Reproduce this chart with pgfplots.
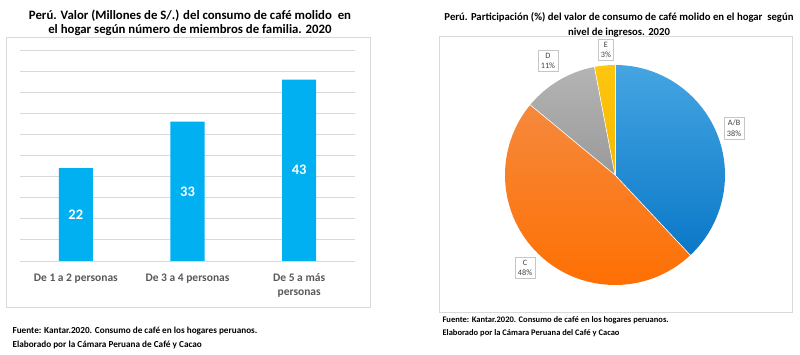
\documentclass[border=0pt]{standalone}
\usepackage{pgfplots}
\pgfplotsset{compat=1.18}
\usepackage{pgfplotstable}
\usepackage{fontspec}
\setmainfont{Carlito}
\definecolor{barblue}{HTML}{00B0F0}
\definecolor{gridgray}{HTML}{D9D9D9}
\definecolor{boxgray}{HTML}{D9D9D9}
\definecolor{txtgray}{HTML}{595959}
\definecolor{lbltxt}{HTML}{404040}
\definecolor{slice0top}{HTML}{45A5E2}
\definecolor{slice0bot}{HTML}{0A78C8}
\definecolor{slice1top}{HTML}{F5893C}
\definecolor{slice1bot}{HTML}{FF6E00}
\definecolor{slice2top}{HTML}{B4B4B4}
\definecolor{slice2bot}{HTML}{9A9A9A}
\definecolor{slice3top}{HTML}{FFC60F}
\definecolor{slice3bot}{HTML}{F5B800}

% bar data
\pgfplotstableread{
x value
0 22
1 33
2 43
}\bartable

% pie data: name, percent, label position (axis units, radius = 1)
\pgfplotstableread{
name pct lx ly
A/B 38 1.082 0.427
C 48 -0.818 -0.845
D 11 -0.609 1.036
E 3 -0.082 1.136
}\pietable

\newcommand\computepie{%
  \gdef\pieangle{90}%
  \foreach \i in {0,1,2,3}{%
    \pgfplotstablegetelem{\i}{pct}\of{\pietable}%
    \pgfmathsetmacro\sa{\pieangle}%
    \pgfmathsetmacro\ea{\pieangle-3.6*\pgfplotsretval}%
    \expandafter\xdef\csname piepct\i\endcsname{\pgfplotsretval}%
    \expandafter\xdef\csname piestart\i\endcsname{\sa}%
    \expandafter\xdef\csname pieend\i\endcsname{\ea}%
    \xdef\pieangle{\ea}%
    \pgfplotstablegetelem{\i}{name}\of{\pietable}%
    \expandafter\xdef\csname piename\i\endcsname{\pgfplotsretval}%
    \pgfplotstablegetelem{\i}{lx}\of{\pietable}%
    \expandafter\xdef\csname pielx\i\endcsname{\pgfplotsretval}%
    \pgfplotstablegetelem{\i}{ly}\of{\pietable}%
    \expandafter\xdef\csname piely\i\endcsname{\pgfplotsretval}%
  }%
}

\begin{document}
\begin{tikzpicture}[x=1pt,y=1pt]
\computepie
\fill[white] (0,0) rectangle (800,355);
\useasboundingbox (0,0) rectangle (800,355);

% ---------------- left panel ----------------
\draw[boxgray, line width=0.8pt] (6,48) rectangle (370,318);
\node[align=center, font=\bfseries\fontsize{12.8}{14}\selectfont, text=black] at (190,332)
  {Perú. Valor (Millones de S/.) del consumo de café molido\ \ en\\el hogar según número de miembros de familia. 2020};

\begin{axis}[
  at={(20pt,94pt)}, anchor=south west,
  scale only axis, width=335pt, height=211pt,
  ybar, bar width=34pt,
  xmin=-0.5, xmax=2.5, ymin=0, ymax=50,
  ytick={0,5,...,50}, yticklabels={},
  ymajorgrids, grid style={gridgray, line width=0.8pt},
  axis line style={draw=none},
  major tick length=0pt,
  xtick=data,
  xticklabels={De 1 a 2 personas, De 3 a 4 personas, {De 5 a más\\personas}},
  xticklabel style={font=\bfseries\fontsize{11.5}{14.5}\selectfont, text=txtgray, align=center, anchor=north, yshift=-9pt},
  /pgf/number format/assume math mode=true,
  nodes near coords,
  visualization depends on={rawy \as \rawy},
  every node near coord/.append style={text=white, font=\bfseries\fontsize{14.5}{16}\selectfont, anchor=center, yshift={-\rawy*2.11pt}},
  clip=false,
]
\addplot[fill=barblue, draw=none] table[x=x, y=value] {\bartable};
\end{axis}

\node[anchor=west, font=\bfseries\fontsize{9.2}{11}\selectfont] at (9,24) {Fuente: Kantar.2020. Consumo de café en los hogares peruanos.};
\node[anchor=west, font=\bfseries\fontsize{9.2}{11}\selectfont] at (9,10) {Elaborado por la Cámara Peruana de Café y Cacao};

% ---------------- right panel ----------------
\draw[boxgray, line width=0.8pt] (439,43) rectangle (792,319);
\node[align=center, font=\bfseries\fontsize{10.7}{15}\selectfont, text=black] at (619,330)
  {Perú. Participación (\%) del valor de consumo de café molido en el hogar\ \ según\\nivel de ingresos. 2020};

\begin{axis}[
  at={(615pt,180pt)}, anchor=center,
  scale only axis, width=220pt, height=220pt,
  xmin=-1, xmax=1, ymin=-1, ymax=1,
  hide axis, clip=false,
]
\pgfplotsinvokeforeach{0,1,2,3}{
  \shade[top color=slice#1top, bottom color=slice#1bot]
    (axis cs:0,0) -- ++(\csname piestart#1\endcsname:110pt)
    arc[start angle=\csname piestart#1\endcsname, end angle=\csname pieend#1\endcsname, radius=110pt] -- cycle;
  \draw[white, line width=0.6pt]
    (axis cs:0,0) -- ++(\csname piestart#1\endcsname:110pt);
  \node[draw=gray!45, fill=white, text=lbltxt, align=center, inner sep=2.6pt,
        font=\fontsize{8.2}{10.5}\selectfont]
    at (axis cs:\csname pielx#1\endcsname,\csname piely#1\endcsname)
    {\csname piename#1\endcsname\\\csname piepct#1\endcsname\%};
}
\end{axis}

\node[anchor=west, font=\bfseries\fontsize{8.5}{10}\selectfont] at (439,35) {Fuente: Kantar.2020. Consumo de café en los hogares peruanos.};
\node[anchor=west, font=\bfseries\fontsize{8.5}{10}\selectfont] at (439,22) {Elaborado por la Cámara Peruana del Café y Cacao};
\end{tikzpicture}
\end{document}
